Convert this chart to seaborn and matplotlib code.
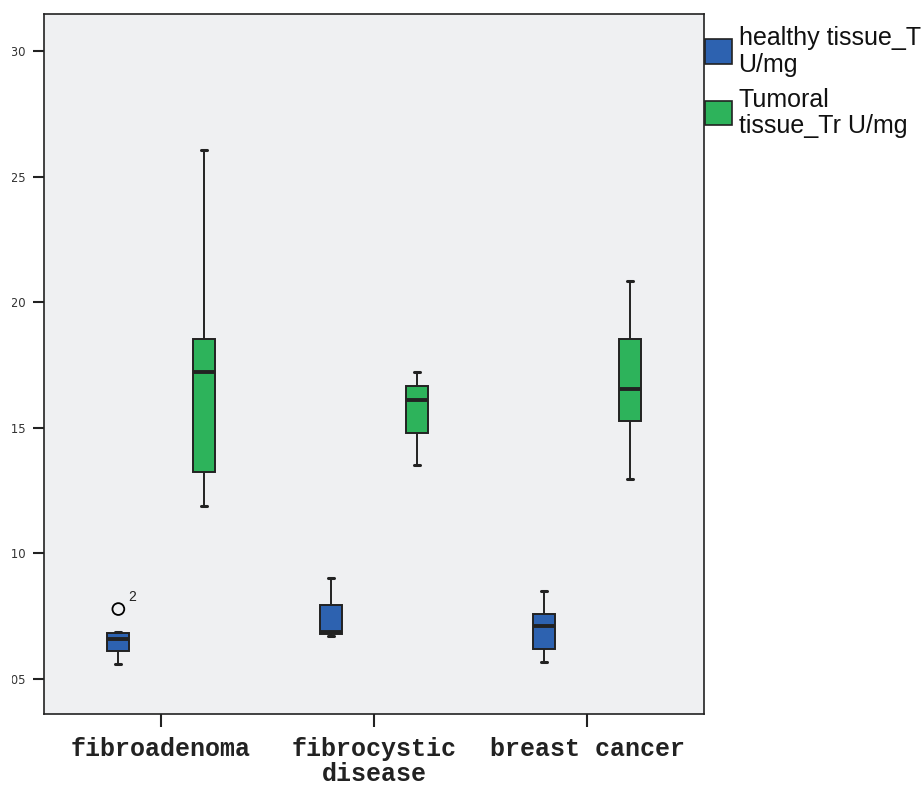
import numpy as np
import pandas as pd
import matplotlib
matplotlib.use("Agg")
import matplotlib.pyplot as plt
from matplotlib.patches import Patch, Rectangle
import seaborn as sns

# ---- data ----
categories = ["fibroadenoma", "fibrocystic\ndisease", "breast cancer"]
series = ["healthy tissue_Tr U/mg", "Tumoral tissue_Tr U/mg"]
legend_labels = ["healthy tissue_Tr\nU/mg", "Tumoral\ntissue_Tr U/mg"]

healthy_min = [0.0559, 0.0669, 0.0568]
healthy_q1 = [0.0612, 0.0678, 0.0618]
healthy_med = [0.0657, 0.0686, 0.0709]
healthy_q3 = [0.0681, 0.0794, 0.0760]
healthy_max = [0.0687, 0.0900, 0.0848]

tumoral_min = [0.1190, 0.1351, 0.1294]
tumoral_q1 = [0.1323, 0.1481, 0.1525]
tumoral_med = [0.1724, 0.1611, 0.1656]
tumoral_q3 = [0.1852, 0.1668, 0.1852]
tumoral_max = [0.2605, 0.1721, 0.2083]

outlier_category = ["fibroadenoma"]
outlier_series = ["healthy tissue_Tr U/mg"]
outlier_value = [0.0778]
outlier_label = ["2"]

ytick_values = [0.05, 0.10, 0.15, 0.20, 0.25, 0.30]
ytick_labels = [",05", ",10", ",15", ",20", ",25", ",30"]

colors = {"healthy tissue_Tr U/mg": "#2D62B0", "Tumoral tissue_Tr U/mg": "#2DB35B"}

# ---- build long table ----
rows = []
stats = {
    series[0]: [healthy_min, healthy_q1, healthy_med, healthy_q3, healthy_max],
    series[1]: [tumoral_min, tumoral_q1, tumoral_med, tumoral_q3, tumoral_max],
}
for s, arrs in stats.items():
    for i, c in enumerate(categories):
        for a in arrs:
            rows.append({"group": c, "series": s, "value": a[i]})
df = pd.DataFrame(rows)
out_df = pd.DataFrame({"group": outlier_category, "series": outlier_series,
                       "value": outlier_value})

sns.set_style("white")
plt.rcParams["font.family"] = ["DejaVu Sans"]

fig = plt.figure(figsize=(9.22, 7.85), dpi=100)
ax = fig.add_axes([44 / 922, 71 / 785, 660 / 922, 700 / 785])
ax.set_facecolor("#EFF0F2")

sns.boxplot(data=df, x="group", y="value", hue="series", order=categories,
            hue_order=series, palette=colors, saturation=1, width=0.8,
            gap=0.742, whis=(0, 100), linecolor="#222222", linewidth=1.4,
            medianprops={"linewidth": 2.8, "color": "#222222"},
            capprops={"linewidth": 2.2, "color": "#222222"},
            capwidths=0.028,
            legend=False, ax=ax)

sns.stripplot(data=out_df, x="group", y="value", hue="series", order=categories,
              hue_order=series, dodge=True, jitter=False, size=8.5,
              marker="o", linewidth=1.3, edgecolor="black", legend=False, ax=ax)
for coll in ax.collections:
    coll.set_facecolor("none")
    coll.set_edgecolor("black")
    coll.set_zorder(5)
    offs = coll.get_offsets()
    for (px, py), lab in zip(offs, outlier_label):
        ax.annotate(lab, (px, py), xytext=(7, 6), textcoords="offset points",
                    fontsize=10, color="#222222", family="Liberation Sans")

ax.set_xlim(-0.549, 2.549)
ax.set_ylim(0.036, 0.3148)
ax.set_yticks(ytick_values)
ax.set_yticklabels(ytick_labels, fontsize=8.5, color="#333333")
ax.set_xticks(range(len(categories)))
ax.set_xticklabels(categories, fontsize=18, fontweight="bold",
                   family="Liberation Mono", color="#222222", linespacing=1.05)
ax.tick_params(axis="y", length=8, width=1.5, pad=5.5, color="#222222", left=True)
ax.tick_params(axis="x", length=9, width=1.5, pad=7.5, color="#222222", bottom=True)
ax.set_xlabel("")
ax.set_ylabel("")
for sp in ax.spines.values():
    sp.set_visible(True)
    sp.set_color("#222222")
    sp.set_linewidth(1.2)

handles = [Patch(facecolor=colors[s], edgecolor="#222222", linewidth=1.2) for s in series]
leg = ax.legend(handles, legend_labels, loc="upper left", bbox_to_anchor=(1.0, 0.984),
                frameon=False, borderpad=0, borderaxespad=0.05,
                handlelength=1.05, handleheight=1.15, handletextpad=0.28,
                labelspacing=0.42, prop={"family": "Liberation Sans", "size": 18})
for t in leg.get_texts():
    t.set_linespacing(1.14)
    t.set_color("#111111")
# center each handle against its two-line label
for col in leg._legend_handle_box.get_children():
    for row in col.get_children():
        row.align = "center"

fig.add_artist(Rectangle((0, 0), 12 / 922, 1, transform=fig.transFigure,
                         facecolor="white", edgecolor="none", zorder=10))

fig.savefig("out.png", dpi=100, facecolor="white")
